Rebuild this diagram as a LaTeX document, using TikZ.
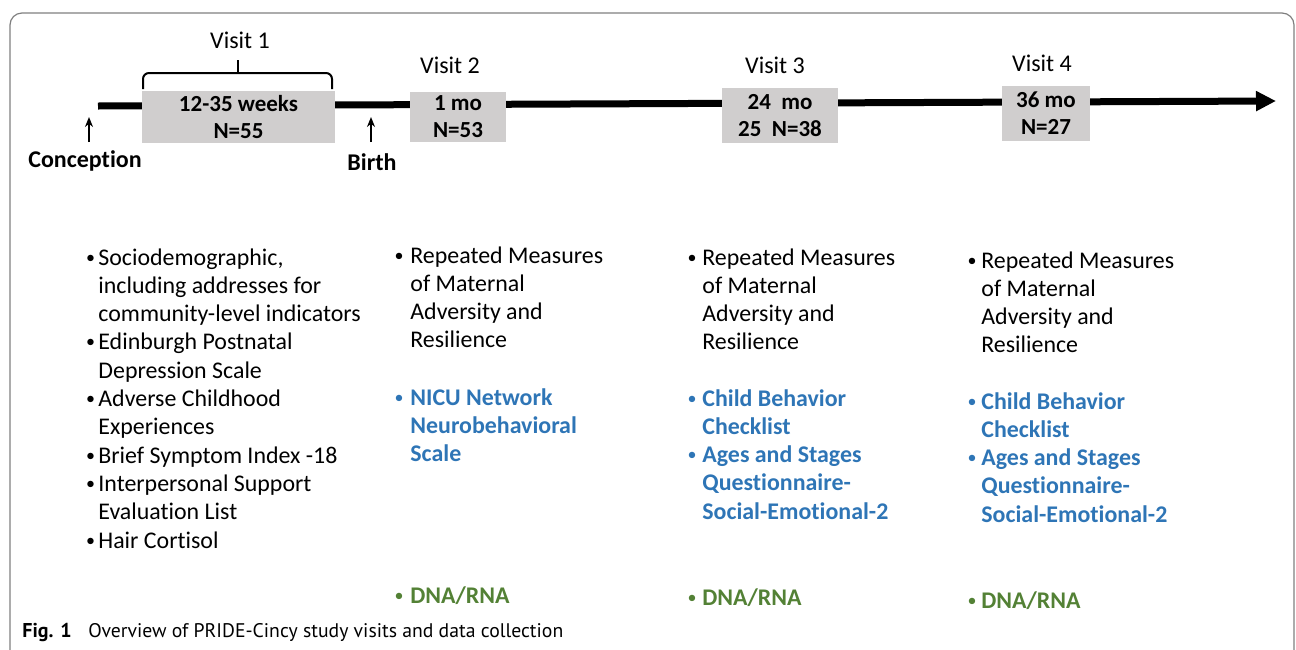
\documentclass[tikz,border=0pt]{standalone}
\usepackage{fontspec}
\setmainfont{Carlito}[Ligatures=NoCommon]
\newfontfamily\capfont{PT Sans}
\usetikzlibrary{arrows.meta}
\definecolor{boxgray}{HTML}{D0CECE}
\definecolor{mblue}{HTML}{2E75B6}
\definecolor{mgreen}{HTML}{538135}
\definecolor{framegray}{HTML}{7F7F7F}
\begin{document}
\begin{tikzpicture}[x=0.5pt,y=-0.5pt,
  visitbox/.style={fill=boxgray, draw=none, align=center, inner sep=0pt,
    font=\bfseries\fontsize{11.5}{13.5}\selectfont},
  vlabel/.style={font=\fontsize{12}{14}\selectfont, inner sep=0pt},
  evlabel/.style={font=\bfseries\fontsize{12}{14}\selectfont, inner sep=0pt},
  listtxt/.style={anchor=base west, align=left, inner sep=0pt,
    font=\fontsize{11.95}{14.15}\selectfont},
  boldtxt/.style={listtxt, font=\bfseries\fontsize{11.95}{14.15}\selectfont},
  bultxt/.style={anchor=base, inner sep=0pt, font=\fontsize{9}{10}\selectfont, yshift=1pt},
  uparrow/.style={line width=0.8pt, -{Stealth[length=5pt,width=4pt]}},
  timeline/.style={line width=3.5pt, -{Triangle[length=10pt,width=9.5pt]}}
]
\useasboundingbox (0,0) rectangle (1296,649);
\begin{scope}
\clip (0,0) rectangle (1296,649);
\draw[framegray, line width=0.6pt, rounded corners=6pt] (10,13) rectangle (1294,720);
\end{scope}

% timeline
\coordinate (tstart) at (98,106);
\coordinate (tend) at (1276,101);
\draw[timeline] (tstart) -- (tend);

% visit boxes
\node[visitbox, minimum width=96.5pt, minimum height=26pt] (b1) at (238.5,117) {12-35 weeks\\N=55};
\node[visitbox, minimum width=48pt, minimum height=25pt] (b2) at (458,117) {1 mo\\N=53};
\node[visitbox, minimum width=58pt, minimum height=27.5pt] (b3) at (780,115.5) {24\ \ mo\\25\ \ N=38};
\node[visitbox, minimum width=44pt, minimum height=27.5pt] (b4) at (1046,113.5) {36 mo\\N=27};

% visit labels
\node[vlabel] (v1) at (240,40) {Visit 1};
\node[vlabel] (v2) at (450,65) {Visit 2};
\node[vlabel] (v3) at (775,65) {Visit 3};
\node[vlabel] (v4) at (1042,63) {Visit 4};

% brace
\draw[line width=1pt, rounded corners=3pt] (143,89) -- (143,73) -- (332,73) -- (332,89);
\draw[line width=1pt] (238,73) -- (238,60);

% conception / birth
\node[evlabel] (conc) at (85,161) {Conception};
\node[evlabel] (birth) at (372,162) {Birth};
\coordinate (concA) at (89,142);
\coordinate (concB) at (89,117);
\coordinate (birA) at (371,142);
\coordinate (birB) at (371,117);
\draw[uparrow] (concA) -- (concB);
\draw[uparrow] (birA) -- (birB);

% column 1 (anchor = baseline of last line)
\node[listtxt] (c1) at (98,548) {Sociodemographic,\\including addresses for\\community-level indicators\\Edinburgh Postnatal\\Depression Scale\\Adverse Childhood\\Experiences\\Brief Symptom Index -18\\Interpersonal Support\\Evaluation List\\Hair Cortisol};
\foreach \k [count=\i] in {0,3,5,7,8,10}
  \node[bultxt] (c1b\i) at (90.5,265+28.3*\k) {•};

% column 2
\node[listtxt] (c2) at (410,347.9) {Repeated Measures\\of Maternal\\Adversity and\\Resilience};
\node[bultxt] (c2b) at (399,263) {•};
\node[boldtxt, text=mblue] (c2n) at (410,461.6) {NICU Network\\Neurobehavioral\\Scale};
\node[bultxt, text=mblue] (c2nb) at (399,405) {•};
\node[boldtxt, text=mgreen] (c2d) at (410,603) {DNA/RNA};
\node[bultxt, text=mgreen] (c2db) at (399,603) {•};

% column 3
\node[listtxt] (c3) at (702,349.9) {Repeated Measures\\of Maternal\\Adversity and\\Resilience};
\node[bultxt] (c3b) at (692,265) {•};
\node[boldtxt, text=mblue] (c3n) at (702,519.2) {Child Behavior\\Checklist\\Ages and Stages\\Questionnaire-\\Social-Emotional-2};
\node[bultxt, text=mblue] (c3nb1) at (692,406) {•};
\node[bultxt, text=mblue] (c3nb2) at (692,462.6) {•};
\node[boldtxt, text=mgreen] (c3d) at (702,605) {DNA/RNA};
\node[bultxt, text=mgreen] (c3db) at (692,605) {•};

% column 4
\node[listtxt] (c4) at (981,352.9) {Repeated Measures\\of Maternal\\Adversity and\\Resilience};
\node[bultxt] (c4b) at (972,268) {•};
\node[boldtxt, text=mblue] (c4n) at (981,522.2) {Child Behavior\\Checklist\\Ages and Stages\\Questionnaire-\\Social-Emotional-2};
\node[bultxt, text=mblue] (c4nb1) at (972,409) {•};
\node[bultxt, text=mblue] (c4nb2) at (972,465.6) {•};
\node[boldtxt, text=mgreen] (c4d) at (981,608) {DNA/RNA};
\node[bultxt, text=mgreen] (c4db) at (972,608) {•};

% caption
\node[anchor=base west, inner sep=0pt, font=\capfont\bfseries\fontsize{10}{12}\selectfont] (figl) at (22,637) {Fig. 1};
\node[anchor=base west, inner sep=0pt, font=\capfont\fontsize{9.85}{12}\selectfont] (figt) at (88,637) {Overview of PRIDE-Cincy study visits and data collection};
\end{tikzpicture}
\end{document}
